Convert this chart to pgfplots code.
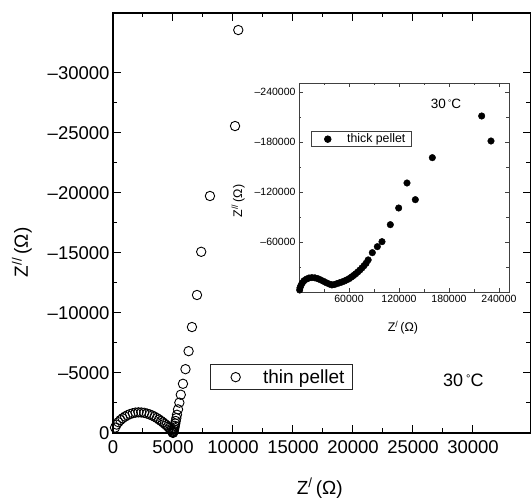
\documentclass[border=0pt]{standalone}
\usepackage{fontspec}
\setmainfont{Liberation Sans}
\usepackage{pgfplots}
\pgfplotsset{compat=1.18}
\newcommand{\degC}[1]{30\,{\fontsize{#1}{#1}\selectfont\raisebox{0.35em}{°}}C}
\begin{document}
\begin{tikzpicture}
\useasboundingbox (-113pt,-69pt) rectangle (418pt,433pt);
% main plot: thin pellet
\begin{axis}[at={(0,0)}, anchor=south west, scale only axis,
  width=417.6pt, height=420pt,
  xmin=0, xmax=34800, ymin=-35000, ymax=0, y dir=reverse,
  xtick={0,5000,...,30000}, ytick={-30000,-25000,...,0},
  yticklabels={–30000,–25000,–20000,–15000,–10000,–5000,0},
  minor x tick num=1, minor y tick num=1,
  major tick length=8pt, minor tick length=4.5pt,
  axis line style={line width=1.2pt},
  every tick/.style={black, line width=1pt},
  scaled ticks=false,
  /pgf/number format/fixed,
  /pgf/number format/1000 sep={},
  /pgf/number format/assume math mode=true,
  tick label style={font=\fontsize{18.5}{21}\selectfont},
  xticklabel style={yshift=-4pt},
  label style={font=\fontsize{19}{22}\selectfont},
  xlabel={Z\textsuperscript{/}\,(Ω)}, ylabel={Z\textsuperscript{//}\,(Ω)},
  xlabel style={at={(axis description cs:0.495,-0.131)}, anchor=center},
  ylabel style={at={(axis description cs:-0.218,0.43)}, anchor=center},
  legend style={at={(axis description cs:0.232,0.164)}, anchor=north west,
    draw=black!85, line width=0.8pt, font=\fontsize{19}{22}\selectfont,
    inner xsep=6pt, inner ysep=3pt},
  legend image code/.code={\path (0pt,0pt) (44pt,0pt);
    \draw[#1] plot coordinates {(19pt,0pt)};},
  legend cell align=left,
  clip=false]
\addplot[only marks, mark=o, mark size=4.7pt, mark options={line width=0.9pt}]
  coordinates {
  (170,-450)(300,-700)(450,-900)(620,-1080)(800,-1230)(1000,-1370)
  (1200,-1480)(1420,-1580)(1650,-1650)(1880,-1700)(2120,-1720)(2360,-1710)
  (2600,-1680)(2830,-1620)(3050,-1550)(3260,-1460)(3460,-1360)(3650,-1250)
  (3830,-1130)(4000,-1010)(4160,-890)(4310,-770)(4450,-650)(4580,-530)
  (4690,-420)(4790,-310)(4870,-210)(4930,-120)(4970,-50)(5000,-10)
  (5030,-80)(5060,-180)(5090,-300)(5120,-440)(5150,-600)(5190,-790)
  (5230,-1000)(5280,-1240)(5330,-1520)(5420,-1970)(5530,-2530)(5650,-3190)
  (5830,-4100)(6040,-5320)(6300,-6820)(6580,-8830)(7000,-11500)(7350,-15100)
  (8080,-19750)(10170,-25580)(10440,-33580)};
\addlegendentry{thin pellet}
\node[font=\fontsize{18}{21}\selectfont] at (axis cs:29200,-4400) {\degC{11}};
\end{axis}
% inset: thick pellet
\begin{axis}[at={(186pt,141pt)}, anchor=south west, scale only axis,
  width=210pt, height=209pt,
  xmin=0, xmax=252000, ymin=-250800, ymax=0, y dir=reverse,
  xtick={60000,120000,180000,240000},
  minor xtick={30000,90000,150000,210000},
  ytick={-240000,-180000,-120000,-60000},
  yticklabels={–240000,–180000,–120000,–60000},
  minor ytick={-210000,-150000,-90000,-30000},
  axis background/.style={fill=white},
  axis line style={black!75, line width=0.8pt},
  every tick/.style={black!75, line width=0.6pt},
  major tick length=4pt, minor tick length=2.5pt,
  scaled ticks=false,
  /pgf/number format/fixed,
  /pgf/number format/1000 sep={},
  /pgf/number format/assume math mode=true,
  tick label style={font=\fontsize{10.5}{12}\selectfont},
  label style={font=\fontsize{12.5}{14}\selectfont},
  xlabel={Z\textsuperscript{/}\,(Ω)}, ylabel={Z\textsuperscript{//}\,(Ω)},
  xlabel style={at={(axis description cs:0.495,-0.172)}, anchor=center},
  ylabel style={at={(axis description cs:-0.29,0.435)}, anchor=center},
  legend style={at={(axis description cs:0.057,0.77)}, anchor=north west,
    draw=black!75, line width=0.8pt, font=\fontsize{12.3}{14}\selectfont,
    inner xsep=4pt, inner ysep=0.5pt},
  legend image code/.code={\path (0pt,0pt) (29pt,0pt);
    \draw[#1] plot coordinates {(12pt,0pt)};},
  legend cell align=left,
  clip=false]
\addplot[only marks, mark=*, mark size=3.3pt]
  coordinates {
  (800,-2400)(1200,-5000)(2400,-8000)(4000,-11000)(6000,-13500)(9000,-15500)
  (12000,-16800)(15500,-17300)(19000,-17000)(22500,-16000)(26000,-14500)
  (29500,-12800)(33000,-11000)(36500,-9500)(39500,-8500)(42500,-9000)
  (45500,-10000)(48500,-11000)(51500,-12000)(54500,-13200)(57500,-14600)
  (60500,-16200)(63000,-18000)(65500,-19800)(68000,-21800)(70500,-24000)
  (73000,-26300)(75500,-28800)(78000,-31500)(80500,-34500)(83000,-38500)
  (88000,-47200)(94000,-54400)(99600,-60400)(109600,-80800)(119600,-100800)
  (129600,-130800)(139600,-110800)(160000,-161200)(219200,-211200)
  (230400,-181200)};
\addlegendentry{thick pellet}
\node[font=\fontsize{13.5}{15}\selectfont] at (axis cs:176400,-225600) {\degC{8}};
\end{axis}
\end{tikzpicture}
\end{document}
